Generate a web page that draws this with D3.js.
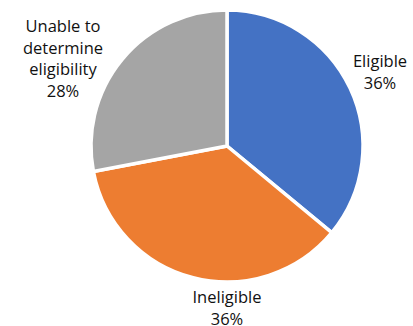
<!DOCTYPE html>
<html><head><meta charset="utf-8">
<script src="https://cdn.jsdelivr.net/npm/d3@7"></script>
<style>body{margin:0;background:#fff;}svg{display:block;}</style>
</head><body>
<svg id="c" width="413" height="326"></svg>
<script>
const categories = ["Eligible", "Ineligible", "Unable to determine eligibility"];
const values = [36, 36, 28];
const labelLines = [["Eligible", "36%"], ["Ineligible", "36%"], ["Unable to", "determine", "eligibility", "28%"]];
const colors = ["#4472C4", "#ED7D31", "#A5A5A5"];

const svg = d3.select("#c");
const cx = 227, cy = 146, r = 136;
const g = svg.append("g").attr("transform", `translate(${cx},${cy})`);
const pie = d3.pie().sort(null).value(d => d)(values);
const arc = d3.arc().innerRadius(0).outerRadius(r);
g.selectAll("path").data(pie).enter().append("path")
  .attr("d", arc)
  .attr("fill", (d, i) => colors[i])
  .attr("stroke", "#fff").attr("stroke-width", 3.5).attr("stroke-linejoin", "miter");

const labelPos = [[153, -79], [0, 157], [-164, -114]];
const lh = 21.7;
labelLines.forEach((lines, i) => {
  const t = g.append("text")
    .attr("text-anchor", "middle")
    .attr("font-family", "'Open Sans', sans-serif")
    .attr("font-size", 16.5)
    .attr("fill", "#111");
  lines.forEach((ln, j) => {
    t.append("tspan").attr("x", labelPos[i][0]).attr("y", labelPos[i][1] + j * lh).text(ln);
  });
});
</script>
</body></html>
